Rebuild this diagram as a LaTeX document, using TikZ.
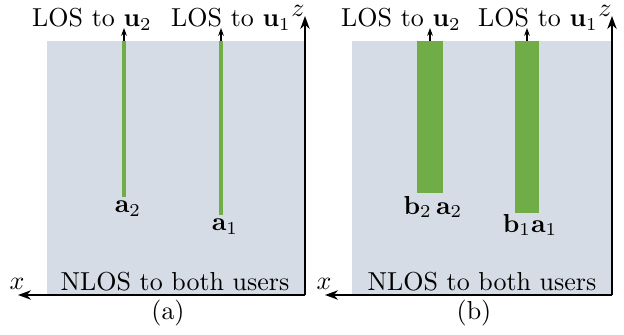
\documentclass[tikz,border=0pt]{standalone}
\usetikzlibrary{arrows.meta}
\definecolor{bgray}{RGB}{214,220,229}
\definecolor{lgreen}{RGB}{112,173,71}
\tikzset{
  axis/.style={line width=0.75pt,-{Stealth[length=5pt,width=3.6pt]}},
  los/.style={line width=0.4pt,-{Stealth[length=3pt,width=2.2pt]}},
  region/.style={fill=bgray,draw=none},
  beam/.style={fill=lgreen,draw=none},
  thinbeam/.style={draw=lgreen,line width=1.2pt},
  lbl/.style={inner sep=0pt,font=\normalsize}
}
\begin{document}
\begin{tikzpicture}[x=0.385pt,y=-0.385pt]
\useasboundingbox (0,0) rectangle (624,334);
% ---------- panel (a) ----------
\fill[region] (47,41) rectangle (305,295);
\coordinate (oa) at (305,295);
\coordinate (xa) at (18,295);
\coordinate (za) at (305,16);
\draw[thinbeam] (124,41) coordinate (ta2) -- (124,197) coordinate (ea2);
\draw[thinbeam] (221,41) coordinate (ta1) -- (221,215) coordinate (ea1);
\coordinate (ua2) at (124,28);
\coordinate (ua1) at (221,28);
\draw[los] (ta2) -- (ua2);
\draw[los] (ta1) -- (ua1);
\draw[axis] (oa) -- (xa);
\draw[axis] (oa) -- (za);
\node[lbl] (la2) at (92,19) {LOS to $\mathbf{u}_2$};
\node[lbl] (la1) at (231,19) {LOS to $\mathbf{u}_1$};
\node[lbl] (na2) at (128,209) {$\mathbf{a}_2$};
\node[lbl] (na1) at (225,227) {$\mathbf{a}_1$};
\node[lbl] (nlosa) at (175,282) {NLOS to both users};
\node[lbl] (xla) at (17,284) {$x$};
\node[lbl] (zla) at (298,11) {$z$};
\node[lbl] (capa) at (168,313) {(a)};
% ---------- panel (b) ----------
\fill[region] (352,41) rectangle (612,295);
\coordinate (ob) at (612,295);
\coordinate (xb) at (325,295);
\coordinate (zb) at (612,16);
\fill[beam] (417,41) rectangle (443,193);
\fill[beam] (515,41) rectangle (539,213);
\coordinate (tb2) at (430,41);
\coordinate (tb1) at (527,41);
\coordinate (ub2) at (430,28);
\coordinate (ub1) at (527,28);
\draw[los] (tb2) -- (ub2);
\draw[los] (tb1) -- (ub1);
\draw[axis] (ob) -- (xb);
\draw[axis] (ob) -- (zb);
\node[lbl] (lb2) at (401,19) {LOS to $\mathbf{u}_2$};
\node[lbl] (lb1) at (538,19) {LOS to $\mathbf{u}_1$};
\node[lbl] (nb2) at (433,207) {$\mathbf{b}_2\,\mathbf{a}_2$};
\node[lbl] (nb1) at (530,225) {$\mathbf{b}_1\mathbf{a}_1$};
\node[lbl] (nlosb) at (482,282) {NLOS to both users};
\node[lbl] (xlb) at (324,284) {$x$};
\node[lbl] (zlb) at (605,11) {$z$};
\node[lbl] (capb) at (474,313) {(b)};
\end{tikzpicture}
\end{document}
